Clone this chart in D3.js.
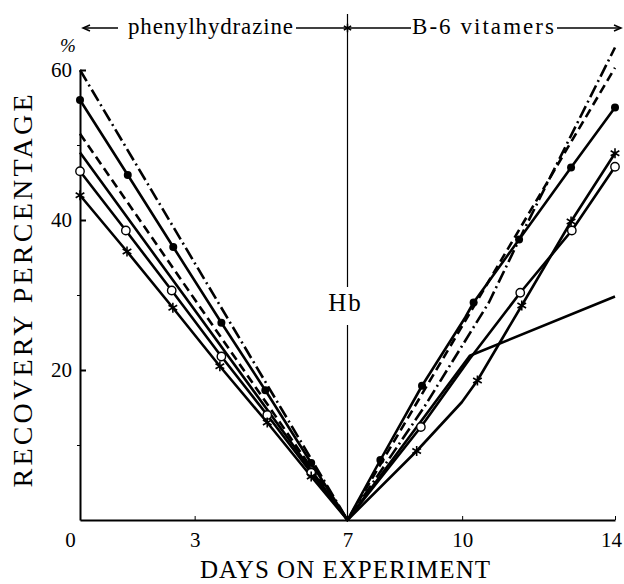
<!DOCTYPE html>
<html>
<head>
<meta charset="utf-8">
<script src="https://cdn.jsdelivr.net/npm/d3@7"></script>
<style>
  body { margin: 0; background: #fff; }
  svg text { font-family: "Liberation Serif", "DejaVu Serif", serif; }
</style>
</head>
<body>
<div id="chart"></div>
<script>
// points are [day, value, marker?]
const dashDotSeries = [[0, 60], [7, 0], [9, 15], [10.7, 29], [11.6, 38.5], [14, 63]];
const dashedSeries = [[0, 51.5], [7, 0], [14, 60.3]];
const filledSeries = [[0, 56, 1], [1.25, 46, 1], [2.44, 36.4, 1], [3.7, 26.3, 1], [4.85, 17.3, 1], [6.05, 7.6, 1], [7, 0],
  [7.86, 8, 1], [8.95, 17.9, 1], [10.08, 27], [10.3, 29, 1], [11.49, 37.4, 1], [12.85, 47, 1], [14, 55, 1]];
const plainSeries = [[0, 49], [7, 0], [10.2, 21.9], [14, 29.8]];
const openSeries = [[0, 46.5, 1], [1.2, 38.6, 1], [2.4, 30.6, 1], [3.7, 21.8, 1], [4.9, 14, 1], [6.05, 6.3, 1], [7, 0],
  [8.92, 12.4, 1], [10.2, 21.5], [11.52, 30.3, 1], [12.87, 38.6, 1], [14, 47.1, 1]];
const starSeries = [[0, 43.3, 1], [1.23, 35.8, 1], [2.43, 28.3, 1], [3.66, 20.5, 1], [4.9, 13, 1], [6.05, 5.8, 1], [7, 0],
  [8.81, 9.2, 1], [9.99, 15.7], [10.4, 18.6, 1], [11.56, 28.6, 1], [12.85, 39.8, 1], [14, 48.9, 1]];

const xTicks = [0, 3, 7, 10, 14];
const yTicks = [20, 40, 60];
const yMinorTicks = [10, 30, 50];

const width = 624, height = 584;
const serif = "Liberation Serif, DejaVu Serif, serif";
const svg = d3.select("#chart").append("svg")
    .attr("width", width)
    .attr("height", height);

const x = d3.scaleLinear().domain([0, 14]).range([80, 615]);
const y = d3.scaleLinear().domain([0, 60]).range([520, 70]);

// axes
const xAxis = svg.append("g")
    .attr("transform", `translate(0,${y(0)})`)
    .call(d3.axisBottom(x).tickValues(xTicks).tickSize(-4).tickSizeOuter(0).tickPadding(11));
xAxis.select(".domain").attr("stroke-width", 2);
xAxis.selectAll("text").attr("font-size", 21).attr("font-family", serif).attr("dy", "0.75em");
xAxis.selectAll(".tick").filter(d => d === 0).select("text").attr("x", -10);
xAxis.selectAll(".tick").filter(d => d === 14).select("text").attr("x", -4);

const yAxis = svg.append("g")
    .attr("transform", `translate(${x(0)},0)`)
    .call(d3.axisLeft(y).tickValues(yTicks).tickSize(-6).tickSizeOuter(0).tickPadding(8));
yAxis.select(".domain").attr("stroke-width", 2);
yAxis.selectAll("line").attr("stroke-width", 2);
yAxis.selectAll("text").attr("font-size", 21).attr("font-family", serif);

svg.append("g")
    .attr("transform", `translate(${x(0)},0)`)
    .call(d3.axisLeft(y).tickValues(yMinorTicks).tickSize(3).tickFormat(""))
    .select(".domain").remove();

// vertical separator at day 7
svg.append("line")
    .attr("x1", x(7)).attr("x2", x(7))
    .attr("y1", 14).attr("y2", 287)
    .attr("stroke", "#000").attr("stroke-width", 1.2);
svg.append("line")
    .attr("x1", x(7)).attr("x2", x(7))
    .attr("y1", 325).attr("y2", y(0))
    .attr("stroke", "#000").attr("stroke-width", 1.2);
svg.append("text")
    .attr("x", x(7) - 2).attr("y", 311)
    .attr("text-anchor", "middle")
    .attr("font-size", 25)
    .attr("letter-spacing", 2)
    .text("Hb");

// header
const hy = 28;
const header = svg.append("g").attr("stroke", "#000").attr("stroke-width", 1.5).attr("fill", "none");
header.append("line").attr("x1", 84).attr("x2", 118).attr("y1", hy).attr("y2", hy);
header.append("path").attr("d", `M90,${hy - 3}L83,${hy}L90,${hy + 3}`);
header.append("line").attr("x1", 296).attr("x2", 411).attr("y1", hy).attr("y2", hy);
header.append("line").attr("x1", 557).attr("x2", 621).attr("y1", hy).attr("y2", hy);
header.append("path").attr("d", `M614,${hy - 3}L621,${hy}L614,${hy + 3}`);
header.append("path")
    .attr("transform", `translate(${x(7)},${hy})`)
    .attr("d", d3.symbol(d3.symbolAsterisk, 50)());

svg.append("text")
    .attr("x", 128).attr("y", 34)
    .attr("font-size", 23)
    .attr("textLength", 165)
    .text("phenylhydrazine");
svg.append("text")
    .attr("x", 412).attr("y", 34)
    .attr("font-size", 23)
    .attr("textLength", 142)
    .text("B-6 vitamers");

svg.append("text")
    .attr("x", 68).attr("y", 52)
    .attr("font-size", 19)
    .attr("font-style", "italic")
    .attr("text-anchor", "middle")
    .text("%");

// axis titles
svg.append("text")
    .attr("x", 345).attr("y", 578)
    .attr("text-anchor", "middle")
    .attr("font-size", 25)
    .attr("textLength", 290)
    .text("DAYS ON EXPERIMENT");
svg.append("text")
    .attr("transform", "translate(32,291) rotate(-90)")
    .attr("text-anchor", "middle")
    .attr("font-size", 28)
    .attr("textLength", 393)
    .text("RECOVERY PERCENTAGE");

// series lines
const line = d3.line().x(d => x(d[0])).y(d => y(d[1]));
const lines = [
  { data: dashDotSeries, dash: "13,4,2,4" },
  { data: dashedSeries, dash: "9,5" },
  { data: filledSeries, dash: null },
  { data: plainSeries, dash: null },
  { data: openSeries, dash: null },
  { data: starSeries, dash: null }
];
svg.append("g").selectAll("path")
    .data(lines)
    .join("path")
    .attr("d", d => line(d.data))
    .attr("fill", "none")
    .attr("stroke", "#000")
    .attr("stroke-width", 2.6)
    .attr("stroke-linejoin", "round")
    .attr("stroke-dasharray", d => d.dash);

// markers
svg.append("g").selectAll("circle.filled")
    .data(filledSeries.filter(d => d[2]))
    .join("circle")
    .attr("class", "filled")
    .attr("cx", d => x(d[0])).attr("cy", d => y(d[1]))
    .attr("r", 4).attr("fill", "#000");
svg.append("g").selectAll("circle.open")
    .data(openSeries.filter(d => d[2]))
    .join("circle")
    .attr("class", "open")
    .attr("cx", d => x(d[0])).attr("cy", d => y(d[1]))
    .attr("r", 4.2).attr("fill", "#fff")
    .attr("stroke", "#000").attr("stroke-width", 1.4);
svg.append("g").selectAll("path.star")
    .data(starSeries.filter(d => d[2]))
    .join("path")
    .attr("class", "star")
    .attr("transform", d => `translate(${x(d[0])},${y(d[1])})`)
    .attr("d", d3.symbol(d3.symbolAsterisk, 70)())
    .attr("fill", "none").attr("stroke", "#000").attr("stroke-width", 1.6);
</script>
</body>
</html>
